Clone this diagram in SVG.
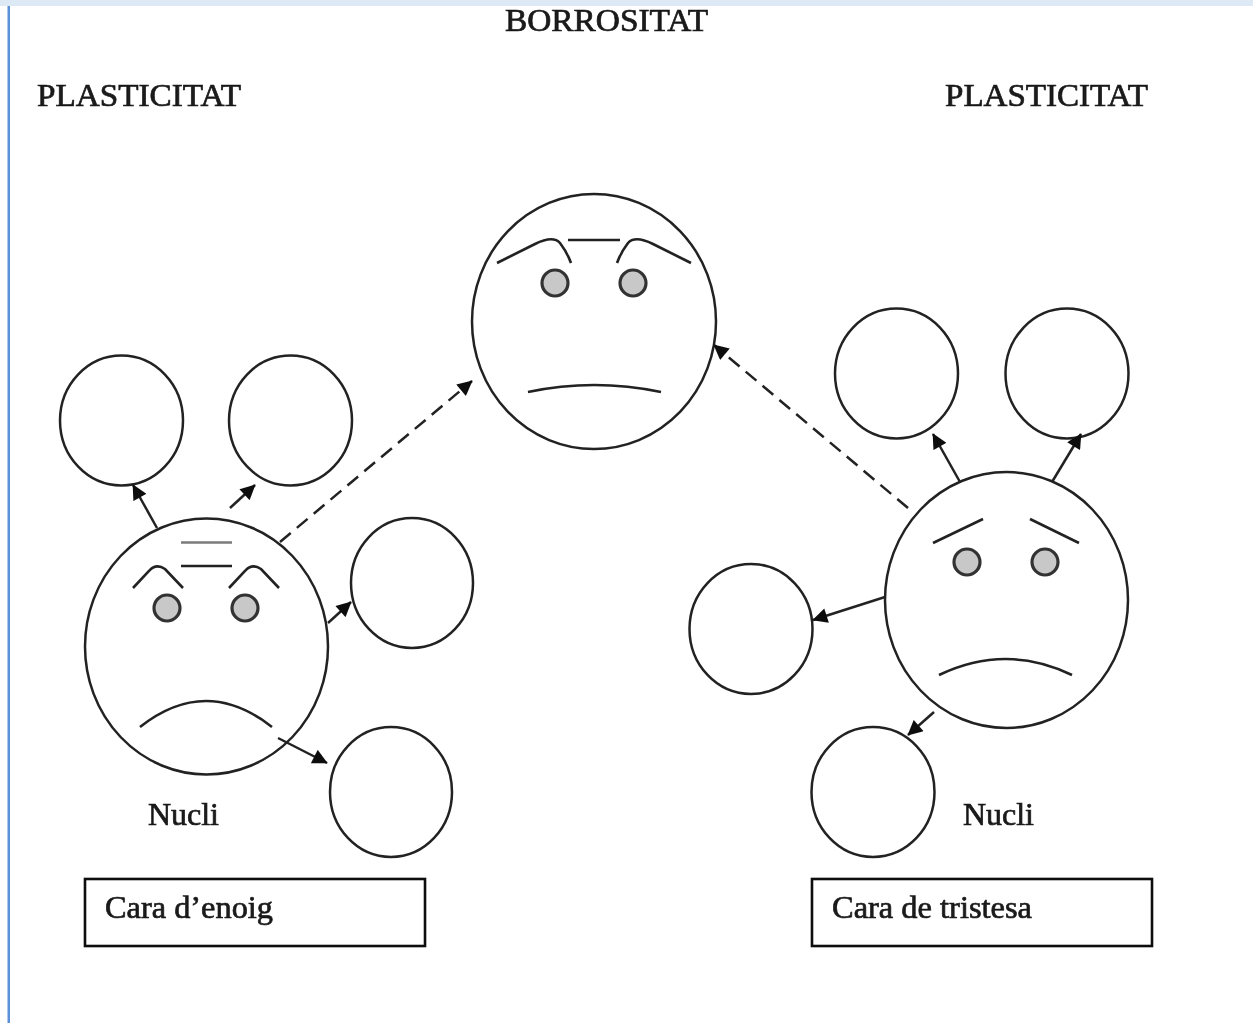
<svg xmlns="http://www.w3.org/2000/svg" width="1253" height="1023" viewBox="0 0 1253 1023">
<style>
.l{fill:none;stroke:#222;stroke-width:2.6}
.c{fill:#fff;stroke:#222;stroke-width:2.5}
.e{fill:#c8c8c8;stroke:#333;stroke-width:3.2}
.b{fill:#fff;stroke:#111;stroke-width:2.6}
.a{fill:none;stroke:#222;stroke-width:2.5;marker-end:url(#h)}
.d{stroke-dasharray:14 8}
text{font-family:"Liberation Serif","Times New Roman",serif;fill:#1a1a1a;stroke:#1a1a1a;stroke-width:.7}
.t{font-size:32px}
</style>
<defs>
<marker id="h" viewBox="0 0 10 10" refX="9.5" refY="5" markerWidth="16" markerHeight="15" markerUnits="userSpaceOnUse" orient="auto"><path d="M0 0L10 5L0 10Z" fill="#111"/></marker>
<filter id="s" filterUnits="userSpaceOnUse" x="0" y="0" width="1253" height="1023"><feGaussianBlur stdDeviation="0.7"/></filter>
</defs>
<rect width="1253" height="1023" fill="#fff"/>
<rect width="1253" height="6" fill="#dde9f5"/>
<rect x="7.500" y="6" width="2.500" height="1017" fill="#5b8fd8"/>
<g filter="url(#s)">
<g id="labels">
<text class="t" x="505" y="31" textLength="203" lengthAdjust="spacingAndGlyphs">BORROSITAT</text>
<text class="t" x="37" y="106" textLength="204" lengthAdjust="spacingAndGlyphs">PLASTICITAT</text>
<text class="t" x="945" y="106" textLength="203" lengthAdjust="spacingAndGlyphs">PLASTICITAT</text>
</g>
<g id="sat1"><ellipse class="c" cx="121.500" cy="420.500" rx="61.500" ry="65"/></g>
<g id="sat2"><ellipse class="c" cx="290.500" cy="420.500" rx="61.500" ry="65"/></g>
<g id="sat3"><ellipse class="c" cx="412" cy="583" rx="61" ry="65"/></g>
<g id="sat4"><ellipse class="c" cx="391" cy="792" rx="61" ry="65"/></g>
<g id="sat5"><ellipse class="c" cx="896.500" cy="373.500" rx="61.500" ry="65"/></g>
<g id="sat6"><ellipse class="c" cx="1067" cy="373.500" rx="61.500" ry="65"/></g>
<g id="sat7"><ellipse class="c" cx="751" cy="629" rx="61.500" ry="65"/></g>
<g id="sat8"><ellipse class="c" cx="873" cy="792" rx="61.500" ry="65"/></g>
<g id="face-anger">
<ellipse class="c" cx="206.500" cy="646.500" rx="121.500" ry="128"/>
<path class="l" d="M181 542.500H232" stroke-opacity=".6"/>
<path class="l" d="M181 566H232"/>
<path class="l" d="M133 588L149 571Q156 563 165 569L183 588"/>
<path class="l" d="M229 588L245 571Q252 563 261 569L279 588"/>
<circle class="e" cx="167" cy="608" r="13"/>
<circle class="e" cx="245" cy="608" r="13"/>
<path class="l" d="M140 727Q206 675 272 727"/>
</g>
<g id="face-blur">
<ellipse class="c" cx="594" cy="321.500" rx="122" ry="127.500"/>
<path class="l" d="M568 240H620"/>
<path class="l" d="M497 263L535 244Q553 235 560 243Q567 252 571 263"/>
<path class="l" d="M691 263L653 244Q635 235 628 243Q621 252 617 263"/>
<circle class="e" cx="555" cy="283" r="13"/>
<circle class="e" cx="633" cy="283" r="13"/>
<path class="l" d="M528 392Q594 378 661 392"/>
</g>
<g id="face-sad">
<ellipse class="c" cx="1006.500" cy="600" rx="121.500" ry="128"/>
<path class="l" d="M933 543L983 519"/>
<path class="l" d="M1030 519L1079 543"/>
<circle class="e" cx="967" cy="562" r="13"/>
<circle class="e" cx="1045" cy="562" r="13"/>
<path class="l" d="M939 675Q1006 643 1072 675"/>
</g>
<g id="connectors">
<path class="a" d="M157 528L133 485"/>
<path class="a" d="M230 508L255 485"/>
<path class="a" d="M328 623L351 602"/>
<path class="a" d="M278 738L327 763"/>
<path class="a d" d="M280 542L472 381"/>
<path class="a d" d="M908 508L714 345"/>
<path class="a" d="M960 482L933 434"/>
<path class="a" d="M1052 482L1081 434"/>
<path class="a" d="M885 597L813 620"/>
<path class="a" d="M934 712L908 735"/>
</g>
<g id="nucli-left"><text class="t" x="148" y="825" textLength="71" lengthAdjust="spacingAndGlyphs">Nucli</text></g>
<g id="nucli-right"><text class="t" x="963" y="825" textLength="71" lengthAdjust="spacingAndGlyphs">Nucli</text></g>
<g id="box-anger"><rect class="b" x="85" y="879" width="340" height="67"/><text class="t" x="105" y="918" textLength="168" lengthAdjust="spacingAndGlyphs">Cara d’enoig</text></g>
<g id="box-sad"><rect class="b" x="812" y="879" width="340" height="67"/><text class="t" x="832" y="918" textLength="200" lengthAdjust="spacingAndGlyphs">Cara de tristesa</text></g>
</g>
</svg>
